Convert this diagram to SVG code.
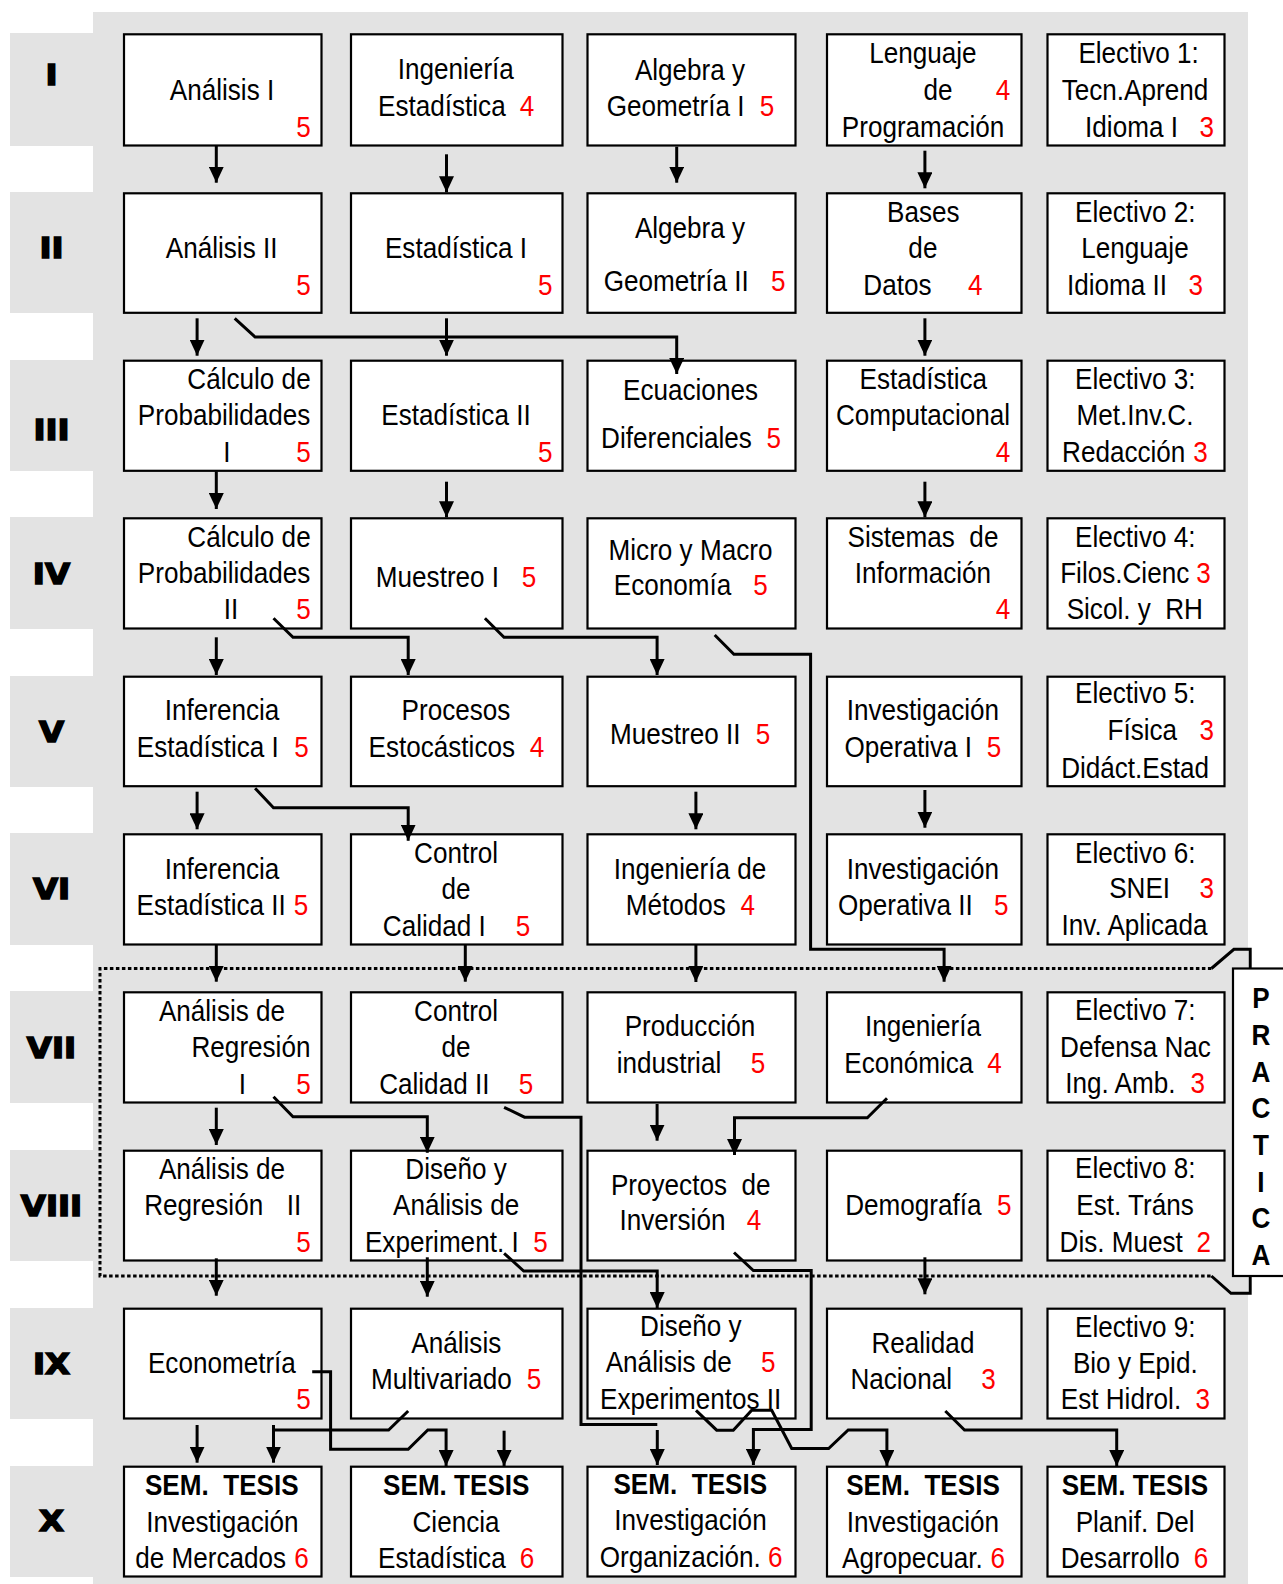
<svg xmlns="http://www.w3.org/2000/svg" width="1283" height="1584" viewBox="0 0 1283 1584">
<style>
.bg{fill:#E3E3E3}
.box{fill:#fff;stroke:#000;stroke-width:2.2}
.t{font-family:"Liberation Sans",Arial,sans-serif;font-size:29px;text-anchor:middle;fill:#000;transform-box:fill-box;transform-origin:center;transform:scaleX(0.9)}
.r{fill:#FF0000}
.b{font-weight:bold}
.lbl{font-family:"DejaVu Sans",sans-serif;font-weight:bold;font-size:29px;text-anchor:middle;fill:#000;stroke:#000;stroke-width:1.5;transform-box:fill-box;transform-origin:center;transform:scaleX(1.12)}
.c{fill:none;stroke:#000;stroke-width:3}
.dot{fill:none;stroke:#000;stroke-width:3;stroke-dasharray:3.5 2.5}
</style>
<defs>
<marker id="ah" markerUnits="userSpaceOnUse" markerWidth="16" markerHeight="15" refX="16" refY="7.5" orient="auto"><path d="M0,0 L16,7.5 L0,15 Z" fill="#000"/></marker>
</defs>
<rect x="0" y="0" width="1283" height="1584" fill="#fff"/>
<rect class="bg" x="93" y="12" width="1155" height="1572"/>
<g id="row-labels">
<rect class="bg" x="10" y="33" width="84" height="113"/>
<rect class="bg" x="10" y="192" width="84" height="121"/>
<rect class="bg" x="10" y="360" width="84" height="111"/>
<rect class="bg" x="10" y="517" width="84" height="112"/>
<rect class="bg" x="10" y="676" width="84" height="111"/>
<rect class="bg" x="10" y="833" width="84" height="112"/>
<rect class="bg" x="10" y="991" width="84" height="112"/>
<rect class="bg" x="10" y="1150" width="84" height="111"/>
<rect class="bg" x="10" y="1308" width="84" height="111"/>
<rect class="bg" x="10" y="1466" width="84" height="111"/>
<text class="lbl" x="51.5" y="85">I</text>
<text class="lbl" x="51.5" y="258.3">II</text>
<text class="lbl" x="51.5" y="440">III</text>
<text class="lbl" x="51.5" y="584">IV</text>
<text class="lbl" x="51.5" y="741.7">V</text>
<text class="lbl" x="51.5" y="899.3">VI</text>
<text class="lbl" x="51.5" y="1057.7">VII</text>
<text class="lbl" x="51.5" y="1215.7">VIII</text>
<text class="lbl" x="51.5" y="1374">IX</text>
<text class="lbl" x="51.5" y="1531">X</text>
</g>
<path class="dot" d="M1211.4,968.5 H100 V1276 H1211.4"/>
<g id="practica">
<rect class="box" x="1233" y="968.5" width="60" height="307.5"/>
<text class="t b" x="1261" y="1008">P</text>
<text class="t b" x="1261" y="1045">R</text>
<text class="t b" x="1261" y="1081.7">A</text>
<text class="t b" x="1261" y="1118.3">C</text>
<text class="t b" x="1261" y="1155">T</text>
<text class="t b" x="1261" y="1191.7">I</text>
<text class="t b" x="1261" y="1228.3">C</text>
<text class="t b" x="1261" y="1265">A</text>
</g>
<!-- Row I -->
<g id="analisis-1"><rect class="box" x="124" y="34.3" width="197.5" height="111.2"/>
<text class="t" x="222" y="100">Análisis I</text><text class="t r" x="303.5" y="136.7">5</text></g>
<g id="ingenieria-estadistica"><rect class="box" x="351" y="34.3" width="211.5" height="111.2"/>
<text class="t" x="455.8" y="79">Ingeniería</text><text class="t" x="441.8" y="116">Estadística</text><text class="t r" x="527" y="116">4</text></g>
<g id="algebra-1"><rect class="box" x="587.5" y="34.3" width="208" height="111.2"/>
<text class="t" x="690" y="80">Algebra y</text><text class="t" x="675.7" y="116.5">Geometría I</text><text class="t r" x="767" y="116.5">5</text></g>
<g id="lenguaje-programacion"><rect class="box" x="827" y="34.3" width="194.5" height="111.2"/>
<text class="t" x="922.9" y="63.3">Lenguaje</text><text class="t" x="938" y="100">de</text><text class="t r" x="1003" y="100">4</text><text class="t" x="923" y="136.7">Programación</text></g>
<g id="electivo-1"><rect class="box" x="1047.5" y="34.3" width="177" height="111.2"/>
<text class="t" x="1138.6" y="63.3">Electivo 1:</text><text class="t" x="1135" y="100">Tecn.Aprend</text><text class="t" x="1131.5" y="136.7">Idioma I</text><text class="t r" x="1206.8" y="136.7">3</text></g>
<!-- Row II -->
<g id="analisis-2"><rect class="box" x="124" y="193.3" width="197.5" height="119.5"/>
<text class="t" x="221.6" y="258.3">Análisis II</text><text class="t r" x="303.5" y="295">5</text></g>
<g id="estadistica-1"><rect class="box" x="351" y="193.3" width="211.5" height="119.5"/>
<text class="t" x="456" y="258.3">Estadística I</text><text class="t r" x="545.3" y="295">5</text></g>
<g id="algebra-2"><rect class="box" x="587.5" y="193.3" width="208" height="119.5"/>
<text class="t" x="690" y="238">Algebra y</text><text class="t" x="676.2" y="291.5">Geometría II</text><text class="t r" x="778.3" y="291.5">5</text></g>
<g id="bases-datos"><rect class="box" x="827" y="193.3" width="194.5" height="119.5"/>
<text class="t" x="923.3" y="221.7">Bases</text><text class="t" x="922.9" y="258.3">de</text><text class="t" x="897.4" y="295">Datos</text><text class="t r" x="975.3" y="295">4</text></g>
<g id="electivo-2"><rect class="box" x="1047.5" y="193.3" width="177" height="119.5"/>
<text class="t" x="1135.3" y="221.7">Electivo 2:</text><text class="t" x="1135" y="258.3">Lenguaje</text><text class="t" x="1117" y="295">Idioma II</text><text class="t r" x="1195.7" y="295">3</text></g>
<!-- Row III -->
<g id="calculo-prob-1"><rect class="box" x="124" y="360.7" width="197.5" height="110.1"/>
<text class="t" x="249" y="389">Cálculo de</text><text class="t" x="224.1" y="425">Probabilidades</text><text class="t" x="227" y="461.7">I</text><text class="t r" x="303.5" y="461.7">5</text></g>
<g id="estadistica-2"><rect class="box" x="351" y="360.7" width="211.5" height="110.1"/>
<text class="t" x="456" y="425">Estadística II</text><text class="t r" x="545.3" y="461.7">5</text></g>
<g id="ecuaciones-diferenciales"><rect class="box" x="587.5" y="360.7" width="208" height="110.1"/>
<text class="t" x="690.5" y="400.5">Ecuaciones</text><text class="t" x="676.5" y="448.5">Diferenciales</text><text class="t r" x="773.7" y="448.5">5</text></g>
<g id="estadistica-computacional"><rect class="box" x="827" y="360.7" width="194.5" height="110.1"/>
<text class="t" x="923.3" y="389">Estadística</text><text class="t" x="923" y="425">Computacional</text><text class="t r" x="1003" y="461.7">4</text></g>
<g id="electivo-3"><rect class="box" x="1047.5" y="360.7" width="177" height="110.1"/>
<text class="t" x="1135.3" y="389">Electivo 3:</text><text class="t" x="1135" y="425">Met.Inv.C.</text><text class="t" x="1123.7" y="461.7">Redacción</text><text class="t r" x="1200.6" y="461.7">3</text></g>
<!-- Row IV -->
<g id="calculo-prob-2"><rect class="box" x="124" y="518.3" width="197.5" height="110.2"/>
<text class="t" x="249" y="547.3">Cálculo de</text><text class="t" x="224.1" y="583.3">Probabilidades</text><text class="t" x="231" y="619.3">II</text><text class="t r" x="303.5" y="619.3">5</text></g>
<g id="muestreo-1"><rect class="box" x="351" y="518.3" width="211.5" height="110.2"/>
<text class="t" x="437.5" y="586.7">Muestreo I</text><text class="t r" x="529" y="586.7">5</text></g>
<g id="micro-macro"><rect class="box" x="587.5" y="518.3" width="208" height="110.2"/>
<text class="t" x="690.5" y="560.5">Micro y Macro</text><text class="t" x="672.5" y="595">Economía</text><text class="t r" x="760.5" y="595">5</text></g>
<g id="sistemas-informacion"><rect class="box" x="827" y="518.3" width="194.5" height="110.2"/>
<text class="t" x="923" y="546.7" xml:space="preserve">Sistemas  de</text><text class="t" x="922.9" y="583.3">Información</text><text class="t r" x="1003" y="619.3">4</text></g>
<g id="electivo-4"><rect class="box" x="1047.5" y="518.3" width="177" height="110.2"/>
<text class="t" x="1135.3" y="546.7">Electivo 4:</text><text class="t" x="1124.7" y="583.3">Filos.Cienc</text><text class="t r" x="1203.6" y="583.3">3</text><text class="t" x="1134.8" y="619.3" xml:space="preserve">Sicol. y  RH</text></g>
<!-- Row V -->
<g id="inferencia-1"><rect class="box" x="124" y="676.7" width="197.5" height="109.5"/>
<text class="t" x="222" y="720">Inferencia</text><text class="t" x="207.8" y="756.7">Estadística I</text><text class="t r" x="301.4" y="756.7">5</text></g>
<g id="procesos-estocasticos"><rect class="box" x="351" y="676.7" width="211.5" height="109.5"/>
<text class="t" x="456" y="720">Procesos</text><text class="t" x="441.8" y="756.7">Estocásticos</text><text class="t r" x="537" y="756.7">4</text></g>
<g id="muestreo-2"><rect class="box" x="587.5" y="676.7" width="208" height="109.5"/>
<text class="t" x="675.3" y="744">Muestreo II</text><text class="t r" x="763" y="744">5</text></g>
<g id="investigacion-operativa-1"><rect class="box" x="827" y="676.7" width="194.5" height="109.5"/>
<text class="t" x="922.9" y="720">Investigación</text><text class="t" x="908.3" y="756.7">Operativa I</text><text class="t r" x="994" y="756.7">5</text></g>
<g id="electivo-5"><rect class="box" x="1047.5" y="676.7" width="177" height="109.5"/>
<text class="t" x="1135.3" y="703.3">Electivo 5:</text><text class="t" x="1142.3" y="740">Física</text><text class="t r" x="1206.8" y="740">3</text><text class="t" x="1135.1" y="777.7">Didáct.Estad</text></g>
<!-- Row VI -->
<g id="inferencia-2"><rect class="box" x="124" y="834.3" width="197.5" height="110.2"/>
<text class="t" x="222" y="879.3">Inferencia</text><text class="t" x="211.2" y="915">Estadística II</text><text class="t r" x="301" y="915">5</text></g>
<g id="control-calidad-1"><rect class="box" x="351" y="834.3" width="211.5" height="110.2"/>
<text class="t" x="456.1" y="863.3">Control</text><text class="t" x="456" y="899.3">de</text><text class="t" x="434.3" y="936">Calidad I</text><text class="t r" x="523" y="936">5</text></g>
<g id="ingenieria-metodos"><rect class="box" x="587.5" y="834.3" width="208" height="110.2"/>
<text class="t" x="690" y="879.3">Ingeniería de</text><text class="t" x="675.8" y="915">Métodos</text><text class="t r" x="747.8" y="915">4</text></g>
<g id="investigacion-operativa-2"><rect class="box" x="827" y="834.3" width="194.5" height="110.2"/>
<text class="t" x="922.9" y="879.3">Investigación</text><text class="t" x="905.4" y="915">Operativa II</text><text class="t r" x="1001.3" y="915">5</text></g>
<g id="electivo-6"><rect class="box" x="1047.5" y="834.3" width="177" height="110.2"/>
<text class="t" x="1135.3" y="862.7">Electivo 6:</text><text class="t" x="1139.6" y="898.3">SNEI</text><text class="t r" x="1206.8" y="898.3">3</text><text class="t" x="1134.5" y="935">Inv. Aplicada</text></g>
<!-- Row VII -->
<g id="regresion-1"><rect class="box" x="124" y="992.3" width="197.5" height="110.2"/>
<text class="t" x="222" y="1020.7">Análisis de</text><text class="t" x="251" y="1057.3">Regresión</text><text class="t" x="242.4" y="1094">I</text><text class="t r" x="303.5" y="1094">5</text></g>
<g id="control-calidad-2"><rect class="box" x="351" y="992.3" width="211.5" height="110.2"/>
<text class="t" x="456.1" y="1020.7">Control</text><text class="t" x="456" y="1057.3">de</text><text class="t" x="434.3" y="1094">Calidad II</text><text class="t r" x="526" y="1094">5</text></g>
<g id="produccion-industrial"><rect class="box" x="587.5" y="992.3" width="208" height="110.2"/>
<text class="t" x="690" y="1036.2">Producción</text><text class="t" x="669" y="1073.2">industrial</text><text class="t r" x="758" y="1073.2">5</text></g>
<g id="ingenieria-economica"><rect class="box" x="827" y="992.3" width="194.5" height="110.2"/>
<text class="t" x="922.9" y="1036">Ingeniería</text><text class="t" x="908.8" y="1072.7">Económica</text><text class="t r" x="994.5" y="1072.7">4</text></g>
<g id="electivo-7"><rect class="box" x="1047.5" y="992.3" width="177" height="110.2"/>
<text class="t" x="1135.3" y="1020">Electivo 7:</text><text class="t" x="1135.5" y="1056.7">Defensa Nac</text><text class="t" x="1120.4" y="1093.3">Ing. Amb.</text><text class="t r" x="1197.8" y="1093.3">3</text></g>
<!-- Row VIII -->
<g id="regresion-2"><rect class="box" x="124" y="1150.7" width="197.5" height="109.8"/>
<text class="t" x="222" y="1179.3">Análisis de</text><text class="t" x="203.7" y="1215">Regresión</text><text class="t" x="293.9" y="1215">II</text><text class="t r" x="303.5" y="1251.7">5</text></g>
<g id="diseno-experimentos-1"><rect class="box" x="351" y="1150.7" width="211.5" height="109.8"/>
<text class="t" x="456.1" y="1179.3">Diseño y</text><text class="t" x="456.1" y="1215">Análisis de</text><text class="t" x="441.8" y="1251.7">Experiment. I</text><text class="t r" x="540.4" y="1251.7">5</text></g>
<g id="proyectos-inversion"><rect class="box" x="587.5" y="1150.7" width="208" height="109.8"/>
<text class="t" x="690.7" y="1195.3" xml:space="preserve">Proyectos  de</text><text class="t" x="672.5" y="1230.5">Inversión</text><text class="t r" x="754" y="1230.5">4</text></g>
<g id="demografia"><rect class="box" x="827" y="1150.7" width="194.5" height="109.8"/>
<text class="t" x="913.4" y="1215">Demografía</text><text class="t r" x="1004.3" y="1215">5</text></g>
<g id="electivo-8"><rect class="box" x="1047.5" y="1150.7" width="177" height="109.8"/>
<text class="t" x="1135.3" y="1178.3">Electivo 8:</text><text class="t" x="1135.1" y="1215">Est. Tráns</text><text class="t" x="1121.2" y="1251.7">Dis. Muest</text><text class="t r" x="1203.8" y="1251.7">2</text></g>
<!-- Row IX -->
<g id="econometria"><rect class="box" x="124" y="1308.7" width="197.5" height="109.8"/>
<text class="t" x="221.9" y="1373.3">Econometría</text><text class="t r" x="303.5" y="1409.3">5</text></g>
<g id="analisis-multivariado"><rect class="box" x="351" y="1308.7" width="211.5" height="109.8"/>
<text class="t" x="456.3" y="1353.3">Análisis</text><text class="t" x="441.4" y="1389.3">Multivariado</text><text class="t r" x="534" y="1389.3">5</text></g>
<g id="diseno-experimentos-2"><rect class="box" x="587.5" y="1308.7" width="208" height="109.8"/>
<text class="t" x="690.8" y="1336">Diseño y</text><text class="t" x="668.8" y="1372.5">Análisis de</text><text class="t r" x="768.3" y="1372.5">5</text><text class="t" x="690.7" y="1409">Experimentos II</text></g>
<g id="realidad-nacional"><rect class="box" x="827" y="1308.7" width="194.5" height="109.8"/>
<text class="t" x="922.9" y="1353.3">Realidad</text><text class="t" x="901.2" y="1389.3">Nacional</text><text class="t r" x="988.5" y="1389.3">3</text></g>
<g id="electivo-9"><rect class="box" x="1047.5" y="1308.7" width="177" height="109.8"/>
<text class="t" x="1135.3" y="1336.7">Electivo 9:</text><text class="t" x="1135.3" y="1372.7">Bio y Epid.</text><text class="t" x="1121" y="1409.3">Est Hidrol.</text><text class="t r" x="1202.7" y="1409.3">3</text></g>
<!-- Row X -->
<g id="tesis-mercados"><rect class="box" x="124" y="1466.7" width="197.5" height="109.8"/>
<text class="t b" x="221.8" y="1495" xml:space="preserve">SEM.  TESIS</text><text class="t" x="222.4" y="1531.7">Investigación</text><text class="t" x="210.6" y="1568.3">de Mercados</text><text class="t r" x="301.4" y="1568.3">6</text></g>
<g id="tesis-ciencia"><rect class="box" x="351" y="1466.7" width="211.5" height="109.8"/>
<text class="t b" x="456.3" y="1495">SEM. TESIS</text><text class="t" x="456" y="1531.7">Ciencia</text><text class="t" x="441.8" y="1568.3">Estadística</text><text class="t r" x="527" y="1568.3">6</text></g>
<g id="tesis-organizacion"><rect class="box" x="587.5" y="1466.7" width="208" height="109.8"/>
<text class="t b" x="690.3" y="1494.5" xml:space="preserve">SEM.  TESIS</text><text class="t" x="690.5" y="1530.5">Investigación</text><text class="t" x="680.3" y="1567.5">Organización.</text><text class="t r" x="775.3" y="1567.5">6</text></g>
<g id="tesis-agropecuaria"><rect class="box" x="827" y="1466.7" width="194.5" height="109.8"/>
<text class="t b" x="923" y="1495" xml:space="preserve">SEM.  TESIS</text><text class="t" x="922.9" y="1531.7">Investigación</text><text class="t" x="912.4" y="1568.3">Agropecuar.</text><text class="t r" x="997.8" y="1568.3">6</text></g>
<g id="tesis-desarrollo"><rect class="box" x="1047.5" y="1466.7" width="177" height="109.8"/>
<text class="t b" x="1134.9" y="1495">SEM. TESIS</text><text class="t" x="1135.1" y="1531.7">Planif. Del</text><text class="t" x="1120.2" y="1568.3">Desarrollo</text><text class="t r" x="1201" y="1568.3">6</text></g>
<g id="connectors">
<path class="c" d="M1211.4,968.5 L1233.9,949.3 H1250.2 V968.5"/>
<path class="c" d="M1211.4,1276 L1231,1293.3 H1250.2 V1276"/>
<path class="c" marker-end="url(#ah)" d="M216.3,146 V182.7"/>
<path class="c" marker-end="url(#ah)" d="M446.5,154.3 V192.3"/>
<path class="c" marker-end="url(#ah)" d="M676.7,146.7 V182.7"/>
<path class="c" marker-end="url(#ah)" d="M924.9,150.7 V188.3"/>
<path class="c" marker-end="url(#ah)" d="M197.1,318.3 V355.7"/>
<path class="c" marker-end="url(#ah)" d="M234.7,318.3 L255.1,337 H676.7 V374"/>
<path class="c" marker-end="url(#ah)" d="M446.5,318.3 V355.7"/>
<path class="c" marker-end="url(#ah)" d="M924.9,318.3 V355.7"/>
<path class="c" marker-end="url(#ah)" d="M216.3,471.3 V509"/>
<path class="c" marker-end="url(#ah)" d="M446.5,481.7 V517.3"/>
<path class="c" marker-end="url(#ah)" d="M924.9,481.7 V517.3"/>
<path class="c" marker-end="url(#ah)" d="M216.3,637.3 V675"/>
<path class="c" marker-end="url(#ah)" d="M273.5,618.3 L293,637.3 H408.2 V675"/>
<path class="c" marker-end="url(#ah)" d="M484.9,618.3 L504,637.3 H657.1 V675"/>
<path class="c" marker-end="url(#ah)" d="M714.7,635 L733.9,654.3 H810.6 V949.3 H944.1 V981.7"/>
<path class="c" marker-end="url(#ah)" d="M197.1,791.7 V829.3"/>
<path class="c" marker-end="url(#ah)" d="M255.1,788.3 L273.5,807.7 H408.2 V840.7"/>
<path class="c" marker-end="url(#ah)" d="M695.9,791.7 V829.3"/>
<path class="c" marker-end="url(#ah)" d="M924.9,790 V827.7"/>
<path class="c" marker-end="url(#ah)" d="M216.3,945 V981.7"/>
<path class="c" marker-end="url(#ah)" d="M465.3,945 V981.7"/>
<path class="c" marker-end="url(#ah)" d="M695.9,945 V982"/>
<path class="c" marker-end="url(#ah)" d="M216.3,1107.7 V1145"/>
<path class="c" marker-end="url(#ah)" d="M273.5,1096.7 L293,1116.7 H427.3 V1152.7"/>
<path class="c" d="M504.1,1107.3 L524.5,1117.2 H581 V1424.6 H657.3"/>
<path class="c" marker-end="url(#ah)" d="M657.3,1430 V1465"/>
<path class="c" marker-end="url(#ah)" d="M657.1,1104 V1140.7"/>
<path class="c" marker-end="url(#ah)" d="M887,1098.3 L867.3,1117.7 H734.5 V1155"/>
<path class="c" marker-end="url(#ah)" d="M216.3,1258.3 V1295.7"/>
<path class="c" marker-end="url(#ah)" d="M427.3,1257.3 V1296.7"/>
<path class="c" marker-end="url(#ah)" d="M504.1,1253.3 L523.7,1271 H657.2 V1308"/>
<path class="c" marker-end="url(#ah)" d="M734,1252.5 L753.4,1270.5 H811.2 V1429.5 H753.4 V1465"/>
<path class="c" marker-end="url(#ah)" d="M924.9,1257.3 V1294.3"/>
<path class="c" marker-end="url(#ah)" d="M197.1,1425 V1462.7"/>
<path class="c" d="M408.2,1411 L388.6,1430 H273.5"/>
<path class="c" marker-end="url(#ah)" d="M273.5,1425 V1462.7"/>
<path class="c" marker-end="url(#ah)" d="M312.2,1371.7 H330.6 V1449.3 H408.2 L427.8,1430 H446.1 V1466"/>
<path class="c" marker-end="url(#ah)" d="M504.1,1430.7 V1466"/>
<path class="c" marker-end="url(#ah)" d="M696,1410.3 L716.7,1430.2 H733.3 L751.7,1410.3 H771.7 L791.7,1448.5 H828.6 L848.2,1430 H886.9 V1466"/>
<path class="c" marker-end="url(#ah)" d="M945.3,1411 L964.5,1430 H1116.7 V1466"/>
</g>
</svg>
